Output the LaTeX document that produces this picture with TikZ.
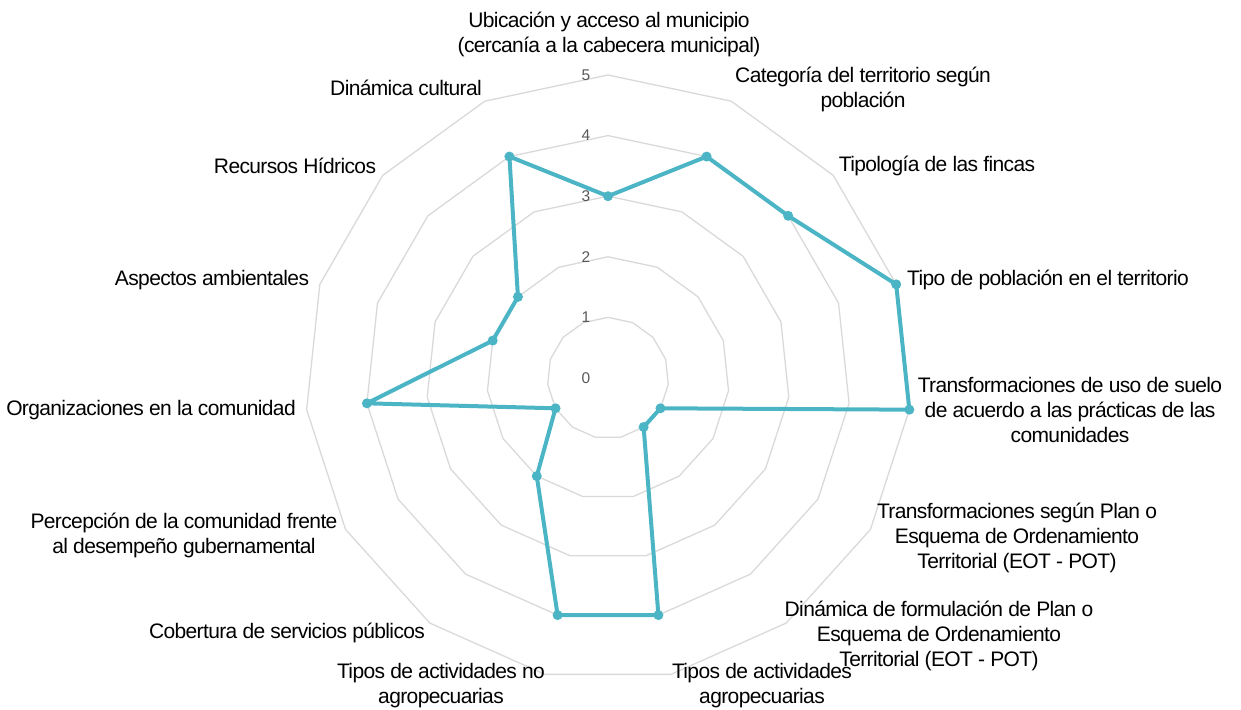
\documentclass[tikz,border=0pt]{standalone}
\usepackage{fontspec}
\setmainfont{Liberation Sans}[LetterSpace=-3]
\newfontfamily\numfont{Liberation Sans}
\definecolor{gridc}{HTML}{D9D9D9}
\definecolor{datac}{RGB}{75,181,197}
\definecolor{numc}{HTML}{595959}
\begin{document}
\begin{tikzpicture}[x=1pt,y=1pt,
  gridline/.style={draw=gridc,line width=1.3pt,line join=round},
  dataline/.style={draw=datac,line width=4pt,line join=round},
  marker/.style={fill=datac},
  axlabel/.style={align=center,inner sep=0pt,font=\fontsize{21}{25}\selectfont,text=black},
  numlabel/.style={inner sep=0pt,font=\numfont\fontsize{15.5}{18}\selectfont,text=numc}]
\useasboundingbox (0,0) rectangle (1241,709);
\coordinate (C) at (608,331);
\begin{scope}[shift={(C)}]
  % rings
  \foreach \v in {1,...,5}{
    \draw[gridline] (90:{60.6*\v}) \foreach \k in {1,...,14}{ -- ({90-24*\k}:{60.6*\v}) } -- cycle;
  }
  % value labels
  \foreach \v in {0,...,5}{
    \node[numlabel] (n\v) at (-22,{60.6*\v}) {\v};
  }
  % data points
  \foreach \v [count=\k from 0] in {3,4,4,5,5,1,1,4,4,2,1,4,2,2,4}{
    \coordinate (p\k) at ({90-24*\k}:{60.6*\v});
  }
  \draw[dataline] (p0) -- (p1) -- (p2) -- (p3) -- (p4) -- (p5) -- (p6) -- (p7)
    -- (p8) -- (p9) -- (p10) -- (p11) -- (p12) -- (p13) -- (p14) -- cycle;
  \foreach \k in {0,...,14}{ \fill[marker] (p\k) circle (5); }
\end{scope}
% axis labels
\node[axlabel] (l1) at (609,674.5) {Ubicación y acceso al municipio\\(cercanía a la cabecera municipal)};
\node[axlabel] (l2) at (863,620) {Categoría del territorio según\\población};
\node[axlabel] (l3) at (937,543) {Tipología de las fincas};
\node[axlabel] (l4) at (1048,429) {Tipo de población en el territorio};
\node[axlabel] (l5) at (1070,299) {Transformaciones de uso de suelo\\de acuerdo a las prácticas de las\\comunidades};
\node[axlabel] (l6) at (1017,171) {Transformaciones según Plan o\\Esquema de Ordenamiento\\Territorial (EOT - POT)};
\node[axlabel] (l7) at (939,73) {Dinámica de formulación de Plan o\\Esquema de Ordenamiento\\Territorial (EOT - POT)};
\node[axlabel] (l8) at (762,23) {Tipos de actividades\\agropecuarias};
\node[axlabel] (l9) at (441,23) {Tipos de actividades no\\agropecuarias};
\node[axlabel] (l10) at (287,76) {Cobertura de servicios públicos};
\node[axlabel] (l11) at (184,174) {Percepción de la comunidad frente\\al desempeño gubernamental};
\node[axlabel] (l12) at (151,299) {Organizaciones en la comunidad};
\node[axlabel] (l13) at (212,429) {Aspectos ambientales};
\node[axlabel] (l14) at (295,543) {Recursos Hídricos};
\node[axlabel] (l15) at (406,621) {Dinámica cultural};
\end{tikzpicture}
\end{document}
